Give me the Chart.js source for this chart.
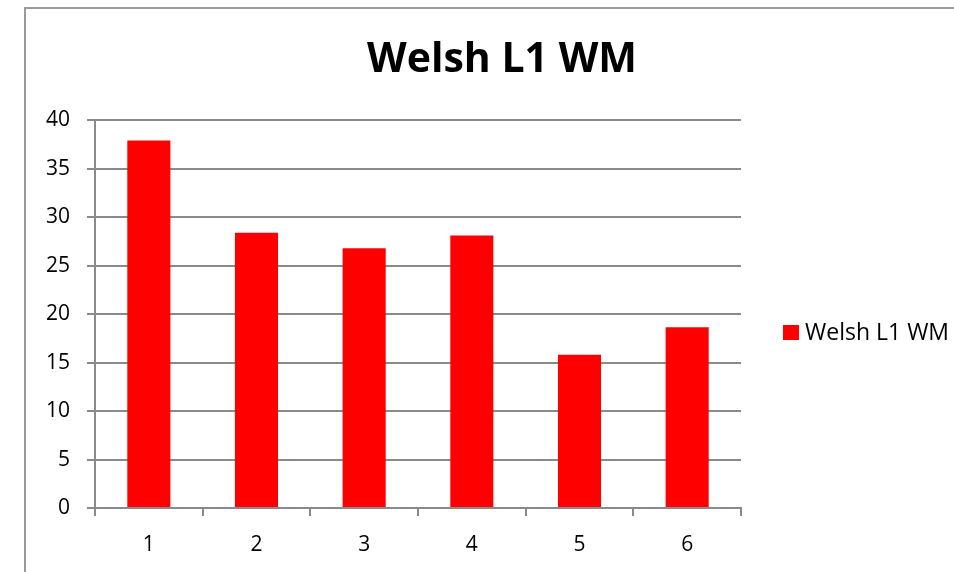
<!DOCTYPE html>
<html>
<head>
<meta charset="utf-8">
<script src="https://cdn.jsdelivr.net/npm/chart.js@4/dist/chart.umd.min.js"></script>
<style>
  html, body { margin: 0; padding: 0; background: #fff; }
  #wrap { width: 954px; height: 572px; position: relative; }
</style>
</head>
<body>
<div id="wrap"><canvas id="c" width="954" height="572"></canvas></div>
<script>
const chartTitle = "Welsh L1 WM";
const categories = ["1", "2", "3", "4", "5", "6"];
const seriesLabel = "Welsh L1 WM";
const seriesValues = [37.9, 28.4, 26.8, 28.1, 15.8, 18.65];
const yTicks = [0, 5, 10, 15, 20, 25, 30, 35, 40];

const FONT = "'Open Sans', 'Liberation Sans', sans-serif";
const GRID = "#8a8a8a";

const framePlugin = {
  id: "frame",
  afterLayout(chart) {
    // centre the title over the whole chart frame rather than the plot area
    if (chart.titleBlock) {
      chart.titleBlock.left = 50;
      chart.titleBlock.right = chart.width;
    }
  },
  beforeDraw(chart) {
    const ctx = chart.ctx;
    ctx.save();
    ctx.fillStyle = "#fff";
    ctx.fillRect(0, 0, chart.width, chart.height);
    ctx.strokeStyle = "#9a9a9a";
    ctx.lineWidth = 2;
    ctx.strokeRect(25, 8, chart.width + 50, chart.height + 50);
    ctx.restore();
  }
};

const legendPlugin = {
  id: "sideLegend",
  afterDraw(chart) {
    const ctx = chart.ctx;
    const ds = chart.data.datasets[0];
    const x = chart.chartArea.right + 42;
    const yc = 332;
    ctx.save();
    ctx.fillStyle = ds.backgroundColor;
    ctx.fillRect(x, yc - 7, 16, 15);
    ctx.fillStyle = "#000";
    ctx.font = "23px " + FONT;
    ctx.textBaseline = "middle";
    ctx.textAlign = "left";
    ctx.fillText(ds.label, x + 22, yc + 1);
    ctx.restore();
  }
};

new Chart(document.getElementById("c"), {
  type: "bar",
  data: {
    labels: categories,
    datasets: [{
      label: seriesLabel,
      data: seriesValues,
      backgroundColor: "#ff0000",
      borderWidth: 0,
      barPercentage: 0.4,
      categoryPercentage: 1.0
    }]
  },
  options: {
    responsive: false,
    animation: false,
    devicePixelRatio: 1,
    layout: { padding: { left: 0, right: 213, top: 0, bottom: 0 } },
    plugins: {
      legend: { display: false },
      tooltip: { enabled: false },
      title: {
        display: true,
        text: chartTitle,
        color: "#000",
        font: { family: FONT, size: 41, weight: "bold", lineHeight: 1.2 },
        padding: { top: 36, bottom: 35 }
      }
    },
    scales: {
      x: {
        offset: true,
        grid: {
          display: true,
          offset: true,
          drawOnChartArea: false,
          drawTicks: true,
          tickLength: 8,
          color: GRID,
          lineWidth: 2
        },
        border: { display: true, color: GRID, width: 2 },
        ticks: {
          color: "#000",
          font: { family: FONT, size: 21 },
          padding: 16
        },
        afterFit(scale) { scale.height = 64; }
      },
      y: {
        min: 0,
        max: 40,
        afterBuildTicks(scale) { scale.ticks = yTicks.map(v => ({ value: v })); },
        grid: {
          display: true,
          drawTicks: true,
          tickLength: 8,
          color: GRID,
          lineWidth: 2
        },
        border: { display: true, color: GRID, width: 2 },
        ticks: {
          color: "#000",
          font: { family: FONT, size: 21 },
          padding: 17
        },
        afterFit(scale) { scale.width = 95; }
      }
    }
  },
  plugins: [framePlugin, legendPlugin]
});
</script>
</body>
</html>
